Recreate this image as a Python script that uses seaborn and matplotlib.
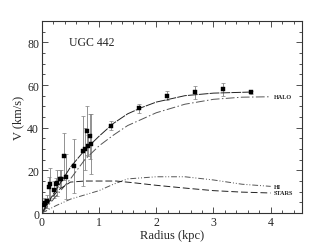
import numpy as np
import pandas as pd
import matplotlib
matplotlib.use("Agg")
import matplotlib.pyplot as plt
import seaborn as sns
from matplotlib.ticker import MultipleLocator

# ------------------------------------------------------------
# Datos (UGC 442)
# ------------------------------------------------------------
radio_obs = [0.03, 0.06, 0.09, 0.13, 0.15, 0.21, 0.24, 0.27, 0.31, 0.34,
             0.39, 0.43, 0.56, 0.72, 0.75, 0.79, 0.81, 0.84, 0.86, 1.21,
             1.70, 2.19, 2.67, 3.16, 3.65]
vel_obs = [4, 4.5, 5.5, 12, 13.5, 11, 13.5, 14, 16, 16,
           26.5, 17, 22, 29, 30, 38.5, 31.5, 36, 32.5, 41,
           49, 55, 56.5, 58, 56.5]
err_obs = [3, 2, 3, 5, 7.5, 4, 3, 6, 4, 4,
           11, 10.5, 12.5, 16.5, 10, 11.5, 5, 10.5, 14, 2,
           2, 2, 3, 3, 0.5]

radio_total = [0, 0.1, 0.25, 0.5, 0.75, 1.0, 1.25, 1.5, 1.75, 2.0, 2.5, 3.0, 3.65]
vel_total = [0, 4.5, 11, 21.5, 29.5, 36, 42, 46.5, 49.5, 52, 55, 56.2, 56.7]

radio_halo = [0, 0.25, 0.5, 0.75, 1.0, 1.25, 1.5, 2.0, 2.5, 3.0, 3.5, 4.0]
vel_halo = [0, 8, 16, 25, 31.5, 36.5, 41, 47, 51, 53.3, 54.3, 54.5]

radio_hi = [0, 0.25, 0.5, 0.75, 1.0, 1.25, 1.5, 2.0, 2.5, 3.0, 3.5, 4.0]
vel_hi = [0, 3.5, 6.5, 8.5, 10.5, 13.5, 16, 17, 17, 15.5, 13.5, 12.5]

radio_stars = [0, 0.1, 0.2, 0.3, 0.5, 0.75, 1.0, 1.3, 1.6, 2.0, 2.5, 3.0, 3.5, 4.0]
vel_stars = [0, 4, 8, 11, 14.5, 15, 15, 15, 14.2, 13, 11.7, 10.5, 9.8, 9.4]

etiquetas = ["HALO", "HI", "STARS"]

# ------------------------------------------------------------
# Grafico
# ------------------------------------------------------------
sns.set_style("ticks")
plt.rcParams["font.family"] = ["Liberation Serif", "DejaVu Serif"]

fig = plt.figure(figsize=(3.27, 2.53), dpi=100)
ax = fig.add_axes([0.128, 0.154, 0.796, 0.759])

gris = "#555555"
ax.errorbar(radio_obs, vel_obs, yerr=err_obs, fmt="none",
            ecolor="#808080", elinewidth=0.6, capsize=1.5, capthick=0.5)

sns.lineplot(x=radio_total, y=vel_total, ax=ax, color="#222222", lw=0.7,
             sort=False, linestyle=(0, (10, 1.2)))
sns.lineplot(x=radio_halo, y=vel_halo, ax=ax, color=gris, lw=0.7,
             sort=False, linestyle=(0, (9, 2.5, 1.5, 2.5)))
sns.lineplot(x=radio_hi, y=vel_hi, ax=ax, color=gris, lw=0.7,
             sort=False, linestyle=(0, (6, 2, 1, 2, 1, 2)))
sns.lineplot(x=radio_stars, y=vel_stars, ax=ax, color="#222222", lw=0.7,
             sort=False, linestyle=(0, (7, 3)))

sns.scatterplot(x=radio_obs, y=vel_obs, ax=ax, marker="s", s=5,
                color="black", edgecolor="black", linewidth=0.3, zorder=5)

for texto, yv in zip(etiquetas, [vel_halo[-1], vel_hi[-1], vel_stars[-1]]):
    ax.text(4.06, yv, texto, fontsize=4.5, fontweight="bold",
            va="center", ha="left", color="#222222")

ax.text(0.47, 80, "UGC 442", fontsize=8.5, va="center", ha="left")

ax.set_xlim(0, 4.55)
ax.set_ylim(0, 90)
ax.xaxis.set_major_locator(MultipleLocator(1))
ax.xaxis.set_minor_locator(MultipleLocator(0.2))
ax.yaxis.set_major_locator(MultipleLocator(20))
ax.yaxis.set_minor_locator(MultipleLocator(5))
ax.tick_params(which="both", direction="in", top=True, right=True,
               labelsize=8.5, width=0.6, color="#333333", pad=2)
ax.tick_params(which="major", length=4)
ax.tick_params(which="minor", length=2)
for sp in ax.spines.values():
    sp.set_linewidth(0.8)
    sp.set_color("#333333")

ax.set_xlabel("Radius (kpc)", fontsize=9, labelpad=1)
ax.set_ylabel("V (km/s)", fontsize=9, labelpad=2)

fig.savefig("out.png", dpi=100)
plt.close(fig)
